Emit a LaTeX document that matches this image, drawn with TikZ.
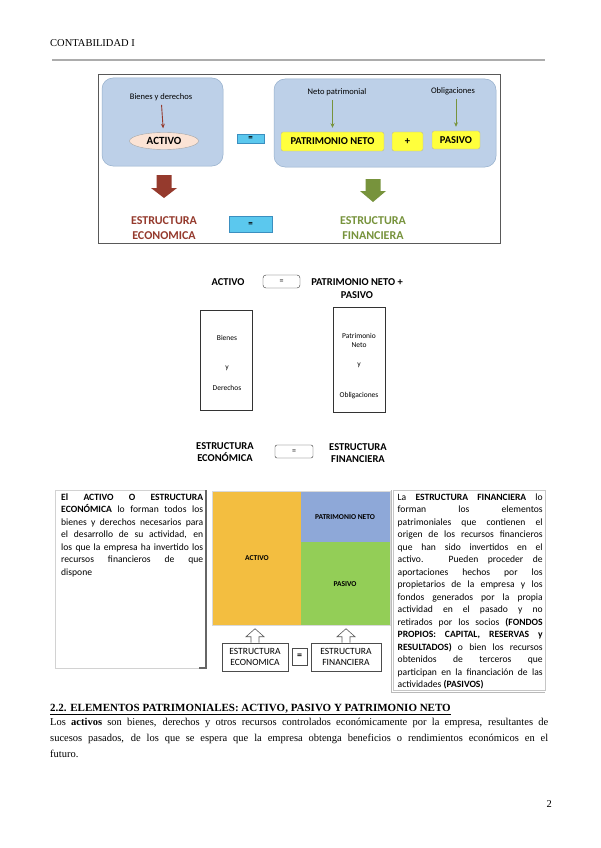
\documentclass[tikz,border=0pt]{standalone}
\usepackage{fontspec}
\setmainfont{Liberation Serif}
\newfontfamily\carl{Carlito}
\usetikzlibrary{shapes.geometric,arrows.meta}
\definecolor{boxblue}{HTML}{BDD0E8}
\definecolor{boxblueline}{HTML}{94AECB}
\definecolor{eqcyan}{HTML}{5BC8EE}
\definecolor{eqcyanline}{HTML}{3B8FC0}
\definecolor{yel}{HTML}{FFFF3C}
\definecolor{peach}{HTML}{FBE3D5}
\definecolor{brownred}{HTML}{953A2D}
\definecolor{olive}{HTML}{77933C}
\definecolor{chorange}{HTML}{F3BE40}
\definecolor{chblue}{HTML}{8EA8D8}
\definecolor{chgreen}{HTML}{93CE57}
\tikzset{
  rbox/.style={fill=boxblue, draw=boxblueline, rounded corners=11pt, line width=0.5pt},
  lbl/.style={font=\carl\fontsize{8.5}{10}\selectfont, inner sep=1pt},
  yelbox/.style={fill=yel, draw=gray!60, rounded corners=2pt, inner sep=0pt, font=\carl\bfseries\fontsize{10.5}{12}\selectfont},
  eqbox/.style={fill=eqcyan, draw=eqcyanline, line width=0.4pt, inner sep=0pt, font=\carl\bfseries\fontsize{9}{10}\selectfont},
  thinarr/.style={line width=0.9pt, -{Stealth[length=4.5pt,width=4pt]}},
  midlbl/.style={font=\carl\bfseries\fontsize{10.5}{13}\selectfont, inner sep=0pt, align=center},
  inlbl/.style={font=\carl\fontsize{7.5}{9}\selectfont, inner sep=0pt, align=center},
  chlbl/.style={font=\carl\bfseries\fontsize{7.5}{9}\selectfont, inner sep=0pt},
  outbox/.style={draw=black!70, fill=white, line width=0.6pt, inner sep=0pt, align=center, font=\carl\fontsize{9.5}{11.5}\selectfont},
  paratext/.style={anchor=north west, inner sep=0pt, align=justify, font=\carl\fontsize{9.6}{12.5}\selectfont}
}
\begin{document}
\begin{tikzpicture}[x=1pt,y=-1pt]
\useasboundingbox[fill=white] (0,0) rectangle (600,848);

% header
\node[anchor=base west, inner sep=0pt, font=\fontsize{10.5}{12}\selectfont] (hdr) at (50,47) {CONTABILIDAD I};
\draw[gray!65, line width=1.3pt] (52,60) -- (545,60);

% ---------- top diagram ----------
\draw[black!65, line width=0.8pt] (98,74) rectangle (500,243);
\draw[rbox] (102,78) rectangle (223,166);
\draw[rbox] (274,79) rectangle (496,167);

\node[lbl] (bienes) at (161,97) {Bienes y derechos};
\node[ellipse, draw=gray!70, fill=peach, minimum width=69pt, minimum height=17pt, inner sep=0pt,
      font=\carl\bfseries\fontsize{11}{12}\selectfont] (activo) at (164,141) {ACTIVO};
\draw[thinarr, brownred, shorten <=3pt, shorten >=4pt] (bienes) -- (activo);

\node[eqbox, minimum width=27pt, minimum height=9pt] (eq1) at (250.5,138.5) {=};

\node[lbl] (np) at (337,92) {Neto patrimonial};
\node[lbl] (obl) at (453,91) {Obligaciones};
\node[yelbox, minimum width=103pt, minimum height=19pt] (pn) at (332.5,141.5) {PATRIMONIO NETO};
\node[yelbox, minimum width=31pt, minimum height=19pt] (plus) at (407.5,141.5) {+};
\node[yelbox, minimum width=48pt, minimum height=18pt] (pas) at (456,140) {PASIVO};
\draw[thinarr, olive, shorten <=3pt, shorten >=4pt] (pn.north |- np.south) -- (pn.north);
\draw[thinarr, olive, shorten <=3pt, shorten >=4pt] (pas.north |- obl.south) -- (pas.north);

% block arrows
\fill[brownred] (156.5,175) -- (171.5,175) -- (171.5,188) -- (177,188) -- (164,198) -- (151,188) -- (156.5,188) -- cycle;
\fill[olive] (365.5,179) -- (380.5,179) -- (380.5,191) -- (386,191) -- (373,202) -- (360,191) -- (365.5,191) -- cycle;

\node[font=\carl\bfseries\fontsize{12}{15}\selectfont, text=brownred, align=center, inner sep=0pt] (ee) at (164,228) {ESTRUCTURA\\ECONOMICA};
\node[eqbox, minimum width=43pt, minimum height=16pt] (eq2) at (250.5,224) {=};
\node[font=\carl\bfseries\fontsize{12}{15}\selectfont, text=olive, align=center, inner sep=0pt] (ef) at (373,228) {ESTRUCTURA\\FINANCIERA};

% ---------- middle diagram ----------
\node[midlbl] (mact) at (228,282) {ACTIVO};
\node[draw=black!80, rounded corners=3pt, minimum width=37pt, minimum height=13pt, inner sep=0pt,
      font=\carl\fontsize{8}{9}\selectfont] (meq) at (281.5,281.5) {=};
\node[midlbl] (mpn) at (357,288.5) {PATRIMONIO NETO +\\PASIVO};

\node[draw=black!80, line width=0.6pt, minimum width=52pt, minimum height=100pt, inner sep=0pt] (lrect) at (226,360) {};
\node[inlbl] (lb1) at (227,338) {Bienes};
\node[inlbl] (lb2) at (227,368) {y};
\node[inlbl] (lb3) at (227,388) {Derechos};

\node[draw=black!80, line width=0.6pt, minimum width=52pt, minimum height=105pt, inner sep=0pt] (rrect) at (359,359.5) {};
\node[inlbl] (rb1) at (359,340.5) {Patrimonio\\Neto};
\node[inlbl] (rb2) at (359,365) {y};
\node[inlbl] (rb3) at (359,396) {Obligaciones};

\node[midlbl, font=\carl\bfseries\fontsize{10.5}{12}\selectfont] (mee) at (225,452.5) {ESTRUCTURA\\ECONÓMICA};
\node[draw=black!80, rounded corners=2pt, minimum width=38pt, minimum height=13pt, inner sep=0pt,
      font=\carl\fontsize{8}{9}\selectfont] (meq2) at (294,451.5) {=};
\node[midlbl, font=\carl\bfseries\fontsize{10.5}{12}\selectfont] (mef) at (358,453.5) {ESTRUCTURA\\FINANCIERA};

% ---------- bottom section ----------
% left text box
\draw[gray!35, line width=0.5pt] (55,490) rectangle (206,668);
\draw[black!60, line width=1.1pt] (206,490) -- (206,668) -- (199,668);
\node[paratext, text width=142pt] (ltext) at (61,493.5) {{\bfseries El ACTIVO O ESTRUCTURA\linebreak ECONÓMICA} lo forman todos los\linebreak bienes y derechos necesarios para\linebreak el desarrollo de su actividad, en\linebreak los que la empresa ha invertido los\linebreak recursos financieros de que\linebreak dispone};

% chart
\fill[chorange] (212,491) rectangle (301,625);
\fill[chblue] (301,491) rectangle (390,542);
\fill[chgreen] (301,542) rectangle (390,625);
\draw[gray!30, line width=0.5pt] (212,491) rectangle (390,625);
\node[chlbl] (cact) at (257,558) {ACTIVO};
\node[chlbl] (cpn) at (345,517) {PATRIMONIO NETO};
\node[chlbl] (cpas) at (345,584) {PASIVO};

% bottom boxes and outline arrows
\node[outbox, minimum width=66pt, minimum height=28pt] (bee) at (255,657) {ESTRUCTURA\\ECONOMICA};
\node[outbox, minimum width=15pt, minimum height=17pt, font=\carl\bfseries\fontsize{10}{11}\selectfont] (beq) at (299.5,656.5) {=};
\node[outbox, minimum width=70pt, minimum height=28pt] (bef) at (346,657) {ESTRUCTURA\\FINANCIERA};
\draw[black!65, fill=white, line width=0.6pt] (bee.north) ++(-4,0) -- ++(0,-6) -- ++(-5,0) -- ++(9,-8) -- ++(9,8) -- ++(-5,0) -- ++(0,6);
\draw[black!65, fill=white, line width=0.6pt] (bef.north) ++(-4,0) -- ++(0,-6) -- ++(-5,0) -- ++(9,-8) -- ++(9,8) -- ++(-5,0) -- ++(0,6);

% right text box
\draw[gray!45, line width=0.5pt] (393,490) rectangle (545,690);
\draw[gray!55, line width=1pt] (391,490) -- (391,692) -- (545,692);
\node[paratext, text width=145pt] (rtext) at (397.5,493.5) {La {\bfseries ESTRUCTURA FINANCIERA} lo\linebreak forman los elementos\linebreak patrimoniales que contienen el\linebreak origen de los recursos financieros\linebreak que han sido invertidos en el\linebreak activo. Pueden proceder de\linebreak aportaciones hechos por los\linebreak propietarios de la empresa y los\linebreak fondos generados por la propia\linebreak actividad en el pasado y no\linebreak retirados por los socios {\bfseries (FONDOS\linebreak PROPIOS: CAPITAL, RESERVAS y\linebreak RESULTADOS)} o bien los recursos\linebreak obtenidos de terceros que\linebreak participan en la financiación de las\linebreak actividades {\bfseries (PASIVOS)}};

% ---------- body text ----------
\node[anchor=base west, inner sep=0pt, font=\fontsize{11}{12}\selectfont] (head) at (50,711) {\underline{\textbf{2.2. ELEMENTOS PATRIMONIALES: ACTIVO, PASIVO Y PATRIMONIO NETO}}};
\node[anchor=north west, inner sep=0pt, text width=498pt, align=justify, font=\fontsize{10.5}{16}\selectfont] (body) at (50,718) {Los \textbf{activos} son bienes, derechos y otros recursos controlados económicamente por la empresa, resultantes de\linebreak sucesos pasados, de los que se espera que la empresa obtenga beneficios o rendimientos económicos en el\linebreak futuro.};

\node[anchor=base east, inner sep=0pt, font=\fontsize{10.5}{12}\selectfont] (pgno) at (552,807) {2};
\end{tikzpicture}
\end{document}
